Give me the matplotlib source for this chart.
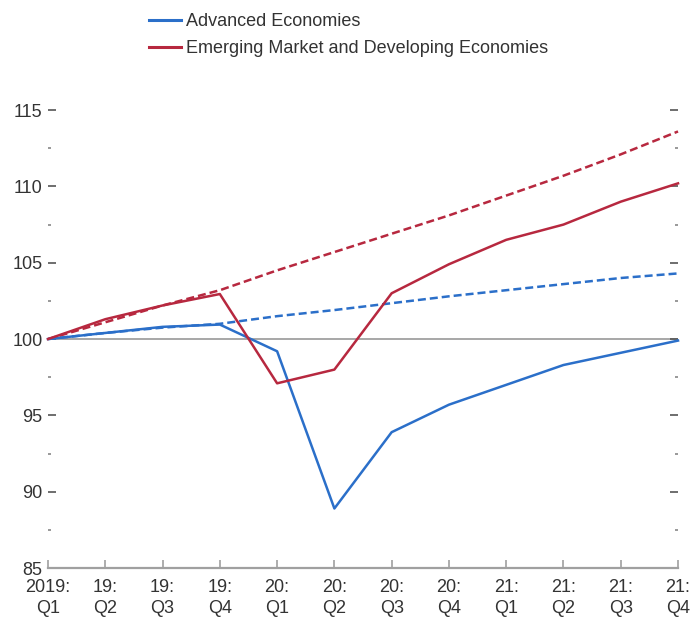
import matplotlib
matplotlib.use("Agg")
import matplotlib.pyplot as plt
from matplotlib.ticker import MultipleLocator
from matplotlib.lines import Line2D

plt.rcParams['font.family'] = ['Liberation Sans', 'DejaVu Sans']

quarters = ['2019:\nQ1', '19:\nQ2', '19:\nQ3', '19:\nQ4',
            '20:\nQ1', '20:\nQ2', '20:\nQ3', '20:\nQ4',
            '21:\nQ1', '21:\nQ2', '21:\nQ3', '21:\nQ4']

# actual / projected paths
ae_actual = [100.0, 100.4, 100.8, 100.95, 99.2, 88.9, 93.9, 95.7, 97.0, 98.3, 99.1, 99.9]
emde_actual = [100.0, 101.3, 102.2, 102.95, 97.1, 98.0, 103.0, 104.9, 106.5, 107.5, 109.0, 110.2]

# pre-crisis projections (dashed)
ae_precrisis = [100.0, 100.4, 100.75, 101.0, 101.5, 101.9, 102.35, 102.8, 103.2, 103.6, 104.0, 104.3]
emde_precrisis = [100.0, 101.1, 102.2, 103.2, 104.5, 105.7, 106.9, 108.1, 109.4, 110.7, 112.1, 113.6]

series_names = ['Advanced Economies', 'Emerging Market and Developing Economies']

blue = '#2b6fc9'
red = '#b7283f'
grey = '#a0a0a0'

fig = plt.figure(figsize=(7.0, 6.21), dpi=100)
ax = fig.add_axes([0.0686, 0.0853, 0.9, 0.762])

x = list(range(len(quarters)))

ax.axhline(100, color=grey, lw=1.3, zorder=1)

ax.plot(x, ae_precrisis, color=blue, lw=1.8, ls=(0, (3.2, 1.6)), zorder=3, clip_on=False)
ax.plot(x, emde_precrisis, color=red, lw=1.8, ls=(0, (3.2, 1.6)), zorder=3, clip_on=False)
ax.plot(x, ae_actual, color=blue, lw=1.8, zorder=4, clip_on=False)
ax.plot(x, emde_actual, color=red, lw=1.8, zorder=4, clip_on=False)

ax.set_xlim(0, len(quarters) - 1)
ax.set_ylim(85, 116)

ax.set_xticks(x)
ax.set_xticklabels(quarters, linespacing=1.3)
ax.yaxis.set_major_locator(MultipleLocator(5))
ax.yaxis.set_minor_locator(MultipleLocator(2.5))
ax.set_yticks([85, 90, 95, 100, 105, 110, 115])

for side in ['top', 'left', 'right']:
    ax.spines[side].set_visible(False)
ax.spines['bottom'].set_color(grey)
ax.spines['bottom'].set_linewidth(1.6)

ax.tick_params(axis='x', direction='in', length=6, width=1.2, color=grey,
               labelsize=13, labelcolor='#333333', pad=8)
ax.tick_params(axis='y', which='major', direction='in', length=6, width=1.2,
               color='#555555', labelsize=13, labelcolor='#333333', pad=4,
               left=True, right=True)
ax.tick_params(axis='y', which='minor', direction='in', length=2.5, width=1.2,
               color='#888888', left=True, right=True)

handles = [Line2D([], [], color=blue, lw=2.2), Line2D([], [], color=red, lw=2.2)]
fig.legend(handles, series_names, loc='upper left',
           bbox_to_anchor=(142 / 700, 1 - 6 / 621), frameon=False,
           fontsize=13, handlelength=1.75, handletextpad=0.3,
           labelspacing=0.55, borderaxespad=0, labelcolor='#333333')

fig.savefig('out.png', dpi=100)
